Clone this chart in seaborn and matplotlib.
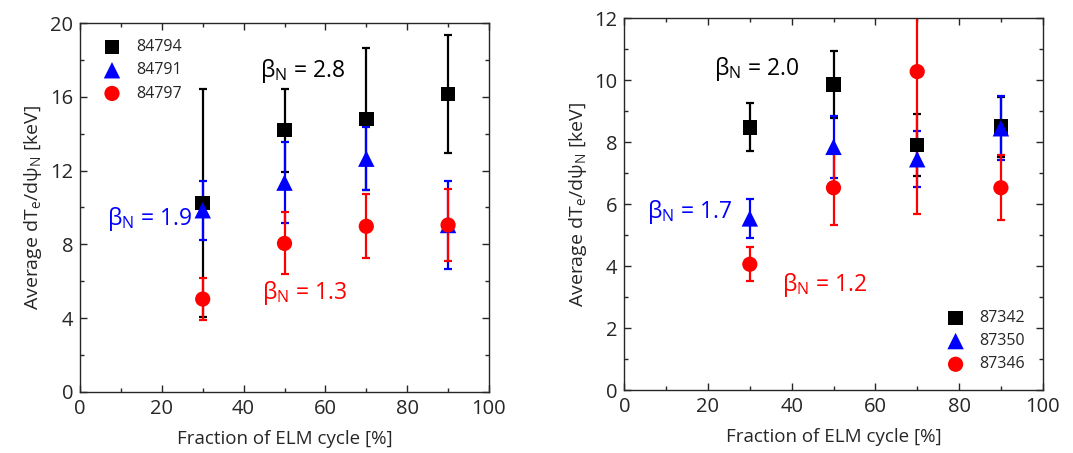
import numpy as np
import pandas as pd
import matplotlib
matplotlib.use("Agg")
import matplotlib.pyplot as plt
from matplotlib.ticker import MultipleLocator
import seaborn as sns

sns.set_style("ticks")
plt.rcParams['font.family'] = ['Open Sans', 'DejaVu Sans']
plt.rcParams['mathtext.fontset'] = 'custom'
plt.rcParams['mathtext.rm'] = 'Open Sans'
plt.rcParams['mathtext.it'] = 'Open Sans:italic'

# ---- data ----
frac = [30, 50, 70, 90]

left_labels = ["84794", "84791", "84797"]
left_vals = [
    [10.25, 14.2, 14.8, 16.15],
    [9.85, 11.35, 12.65, 9.05],
    [5.03, 8.05, 8.98, 9.05],
]
left_errs = [
    [6.2, 2.25, 3.85, 3.2],
    [1.6, 2.2, 1.7, 2.4],
    [1.12, 1.68, 1.73, 1.93],
]

right_labels = ["87342", "87350", "87346"]
right_vals = [
    [8.48, 9.87, 7.91, 8.5],
    [5.54, 7.85, 7.45, 8.45],
    [4.06, 6.53, 10.28, 6.53],
]
right_errs = [
    [0.77, 1.08, 1.0, 0.97],
    [0.64, 1.0, 0.9, 1.03],
    [0.55, 1.2, 4.6, 1.05],
]

colors = ["black", "blue", "red"]
markers = ["s", "^", "o"]
sizes = [110, 140, 120]

def draw(ax, labels, vals, errs):
    for lab, v, e, c, m, s in zip(labels, vals, errs, colors, markers, sizes):
        ax.errorbar(frac, v, yerr=e, fmt='none', ecolor=c, elinewidth=1.6,
                    capsize=3.2, capthick=1.6, zorder=2)
        df = pd.DataFrame({"x": frac, "y": v})
        sns.scatterplot(data=df, x="x", y="y", ax=ax, color=c, marker=m,
                        s=s, edgecolor='none', linewidth=0, label=lab, zorder=3)
    ax.set_xlim(0, 100)
    ax.xaxis.set_major_locator(MultipleLocator(20))
    ax.xaxis.set_minor_locator(MultipleLocator(10))
    ax.tick_params(which='both', direction='in', top=True, right=True,
                   labelsize=14.5, width=1.0)
    ax.tick_params(which='major', length=5, pad=5)
    ax.tick_params(which='minor', length=3)
    for sp in ax.spines.values():
        sp.set_linewidth(1.0)
    ax.set_xlabel("Fraction of ELM cycle [%]", fontsize=13.5, labelpad=8)
    ax.set_ylabel(r"Average dT$_\mathregular{e}$/d$\mathregular{ψ}_\mathregular{N}$ [keV]",
                  fontsize=14, labelpad=4)

fig = plt.figure(figsize=(10.73, 4.53), dpi=100)
ax1 = fig.add_axes([0.0746, 0.1353, 0.3811, 0.8133])
ax2 = fig.add_axes([0.5818, 0.139, 0.39, 0.8206])

draw(ax1, left_labels, left_vals, left_errs)
ax1.set_ylim(0, 20)
ax1.yaxis.set_major_locator(MultipleLocator(4))
ax1.yaxis.set_minor_locator(MultipleLocator(2))
ax1.legend(loc='upper left', frameon=False, fontsize=11.5, handletextpad=0.5,
           borderaxespad=0.5, labelspacing=0.45, borderpad=0.5)

draw(ax2, right_labels, right_vals, right_errs)
ax2.set_ylim(0, 12)
ax2.yaxis.set_major_locator(MultipleLocator(2))
ax2.yaxis.set_minor_locator(MultipleLocator(1))
ax2.legend(loc='lower right', frameon=False, fontsize=11.5, handletextpad=0.5,
           borderaxespad=0.5, labelspacing=0.45, borderpad=0.6)

bfs = 16.5
ax1.text(44.0, 17.4, r"$\mathregular{β_N}$ = 2.8", color='black', fontsize=bfs, va='center')
ax1.text(6.5, 9.4, r"$\mathregular{β_N}$ = 1.9", color='blue', fontsize=bfs, va='center')
ax1.text(44.5, 5.35, r"$\mathregular{β_N}$ = 1.3", color='red', fontsize=bfs, va='center')

ax2.text(21.5, 10.35, r"$\mathregular{β_N}$ = 2.0", color='black', fontsize=bfs, va='center')
ax2.text(5.5, 5.75, r"$\mathregular{β_N}$ = 1.7", color='blue', fontsize=bfs, va='center')
ax2.text(37.8, 3.4, r"$\mathregular{β_N}$ = 1.2", color='red', fontsize=bfs, va='center')

fig.savefig("out.png", dpi=100)
